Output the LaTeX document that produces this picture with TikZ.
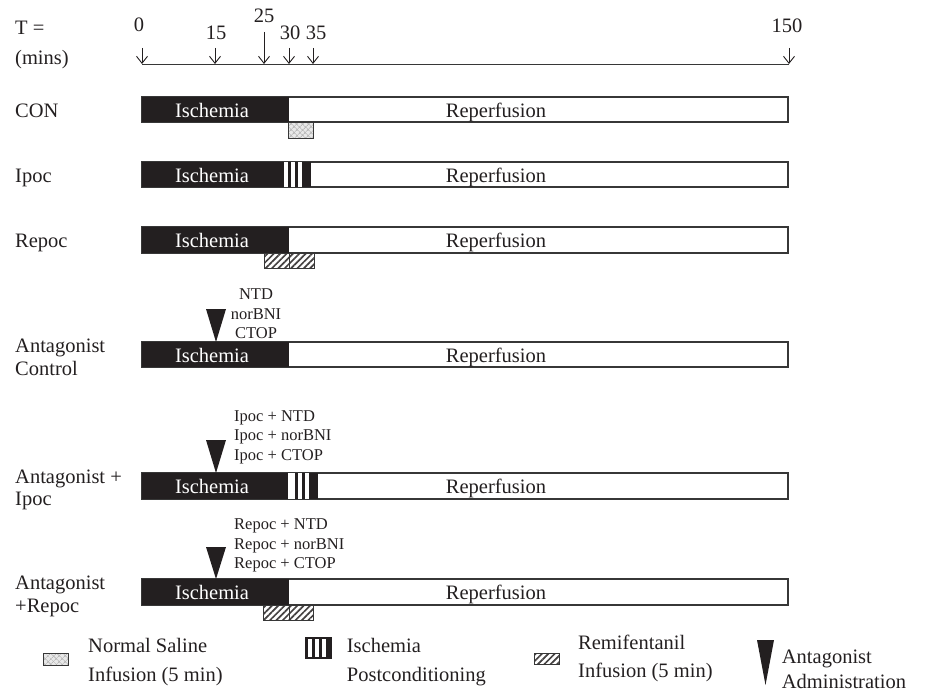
\documentclass[tikz,border=0pt]{standalone}
\usepackage{fontspec}
\setmainfont{Liberation Serif}
\usetikzlibrary{arrows.meta,patterns.meta}
\definecolor{ink}{RGB}{35,31,32}
\definecolor{edge}{RGB}{55,55,55}
\begin{document}
\begin{tikzpicture}[x=1pt,y=-1pt,
  big/.style={font=\fontsize{20.5}{24}\selectfont, inner sep=0pt, text=ink},
  small/.style={font=\fontsize{16.5}{19.5}\selectfont, inner sep=0pt, text=ink},
  tick/.style={-{Straight Barb[length=7pt,width=11pt]}, line width=0.9pt, draw=ink},
  bar/.style={draw=edge, line width=1.3pt, fill=white},
  isch/.style={fill=ink},
  gap/.style={fill=white},
  remi/.style={draw=edge, line width=0.9pt, pattern={Lines[angle=45,distance=4.5pt,line width=1.7pt]}, pattern color=ink!85},
  salinebg/.style={fill=gray!18},
  saline/.style={draw=edge, line width=0.9pt, pattern={Hatch[angle=45,distance=4pt,line width=0.8pt]}, pattern color=gray!55},
  antag/.style={fill=ink}
]
\useasboundingbox (0,0) rectangle (925,693);

% ---------- time axis ----------
\node[big, anchor=base west] (tlab) at (15,35) {T =};
\node[big, anchor=base west] (mlab) at (15,64) {(mins)};
\coordinate (t0) at (142,64);
\coordinate (t15) at (215,64);
\coordinate (t25) at (264,64);
\coordinate (t30) at (289,64);
\coordinate (t35) at (313,64);
\coordinate (t150) at (789,64);
\draw[line width=1pt, draw=edge] (t0) -- (t150);
\coordinate (s0) at (142,48);
\coordinate (s15) at (215,48);
\coordinate (s25) at (264,32);
\coordinate (s30) at (289,48);
\coordinate (s35) at (313,48);
\coordinate (s150) at (789,48);
\foreach \k in {0,15,25,30,35,150} \draw[tick] (s\k) -- (t\k);
\node[big, anchor=base] (n0) at (139,32) {0};
\node[big, anchor=base] (n15) at (216,40) {15};
\node[big, anchor=base] (n25) at (264,23) {25};
\node[big, anchor=base] (n30) at (290,40) {30};
\node[big, anchor=base] (n35) at (316,40) {35};
\node[big, anchor=base] (n150) at (787,33) {150};

% ---------- CON ----------
\node[big, anchor=base west] (rcon) at (15,117.3) {CON};
\draw[bar] (142,97) rectangle (788,122);
\fill[isch] (142,97) rectangle (289,122);
\node[big, anchor=base, text=white] (conI) at (212,117.3) {Ischemia};
\node[big, anchor=base] (conR) at (496,117.3) {Reperfusion};
\fill[salinebg] (288,122) rectangle (313,138);
\draw[saline] (288,122) rectangle (313,138);

% ---------- Ipoc ----------
\node[big, anchor=base west] (ripoc) at (15,182) {Ipoc};
\draw[bar] (142,162) rectangle (788,187);
\fill[isch] (142,162) rectangle (311,187);
\fill[gap] (284,162) rectangle (288,187);
\fill[gap] (291,162) rectangle (295,187);
\fill[gap] (298,162) rectangle (302,187);
\node[big, anchor=base, text=white] (ipocI) at (212,182.3) {Ischemia};
\node[big, anchor=base] (ipocR) at (496,182.3) {Reperfusion};

% ---------- Repoc ----------
\node[big, anchor=base west] (rrepoc) at (15,247.5) {Repoc};
\draw[bar] (142,227) rectangle (788,253);
\fill[isch] (142,227) rectangle (289,253);
\node[big, anchor=base, text=white] (repocI) at (212,247.8) {Ischemia};
\node[big, anchor=base] (repocR) at (496,247.8) {Reperfusion};
\draw[remi] (264,253) rectangle (289,268);
\draw[remi] (289,253) rectangle (314,268);

% ---------- Antagonist Control ----------
\node[big, anchor=base west] (rac1) at (15,352) {Antagonist};
\node[big, anchor=base west] (rac2) at (15,375.5) {Control};
\node[small, anchor=base] (acA) at (256,299.5) {NTD};
\node[small, anchor=base] (acB) at (256,319) {norBNI};
\node[small, anchor=base] (acC) at (256,338.5) {CTOP};
\draw[bar] (142,342) rectangle (788,367);
\fill[isch] (142,342) rectangle (289,367);
\fill[antag] (206,309) -- (226,309) -- (216,342) -- cycle;
\node[big, anchor=base, text=white] (acI) at (212,362.3) {Ischemia};
\node[big, anchor=base] (acR) at (496,362.3) {Reperfusion};

% ---------- Antagonist + Ipoc ----------
\node[big, anchor=base west] (rai1) at (15,483) {Antagonist +};
\node[big, anchor=base west] (rai2) at (15,505.5) {Ipoc};
\node[small, anchor=base west] (aiA) at (234,421) {Ipoc + NTD};
\node[small, anchor=base west] (aiB) at (234,440.5) {Ipoc + norBNI};
\node[small, anchor=base west] (aiC) at (234,460) {Ipoc + CTOP};
\draw[bar] (142,473) rectangle (788,499);
\fill[isch] (142,473) rectangle (318,499);
\fill[gap] (288,473) rectangle (295,499);
\fill[gap] (298,473) rectangle (302,499);
\fill[gap] (305,473) rectangle (309,499);
\fill[antag] (206,440) -- (226,440) -- (216,473) -- cycle;
\node[big, anchor=base, text=white] (aiI) at (212,493.8) {Ischemia};
\node[big, anchor=base] (aiR) at (496,493.8) {Reperfusion};

% ---------- Antagonist + Repoc ----------
\node[big, anchor=base west] (rar1) at (15,589) {Antagonist};
\node[big, anchor=base west] (rar2) at (15,612) {+Repoc};
\node[small, anchor=base west] (arA) at (234,529) {Repoc + NTD};
\node[small, anchor=base west] (arB) at (234,549) {Repoc + norBNI};
\node[small, anchor=base west] (arC) at (234,568.5) {Repoc + CTOP};
\draw[bar] (142,579) rectangle (788,605);
\fill[isch] (142,579) rectangle (289,605);
\fill[antag] (206,547) -- (226,547) -- (216,579) -- cycle;
\node[big, anchor=base, text=white] (arI) at (212,599.8) {Ischemia};
\node[big, anchor=base] (arR) at (496,599.8) {Reperfusion};
\draw[remi] (263,605) rectangle (289,620);
\draw[remi] (289,605) rectangle (313,620);

% ---------- legend ----------
\fill[salinebg] (43,653) rectangle (68,665);
\draw[saline] (43,653) rectangle (68,665);
\node[big, anchor=base west] (lg1a) at (88,652.5) {Normal Saline};
\node[big, anchor=base west] (lg1b) at (88,681) {Infusion (5 min)};

\fill[isch] (305,637) rectangle (332,659);
\fill[gap] (308,639) rectangle (312,657);
\fill[gap] (315,639) rectangle (319,657);
\fill[gap] (322,639) rectangle (326,657);
\node[big, anchor=base west] (lg2a) at (346.7,652.5) {Ischemia};
\node[big, anchor=base west] (lg2b) at (346.7,681) {Postconditioning};

\draw[remi] (534,653) rectangle (559,664);
\node[big, anchor=base west] (lg3a) at (578,649) {Remifentanil};
\node[big, anchor=base west] (lg3b) at (578,677) {Infusion (5 min)};

\fill[antag] (757,640) -- (774,640) -- (765.5,685) -- cycle;
\node[big, anchor=base west] (lg4a) at (781.7,663) {Antagonist};
\node[big, anchor=base west] (lg4b) at (781.7,688) {Administration};
\end{tikzpicture}
\end{document}
